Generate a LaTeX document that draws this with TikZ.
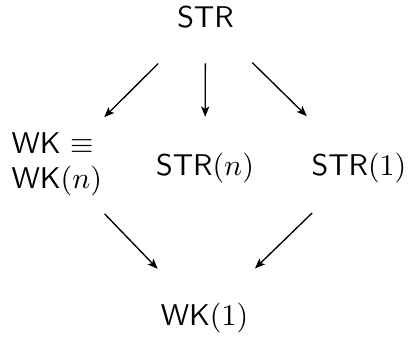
\documentclass[tikz,border=0pt]{standalone}
\usetikzlibrary{arrows.meta}
\begin{document}
\begin{tikzpicture}[x=0.3333pt, y=-0.3333pt, font=\fontsize{10}{11.67}\selectfont\sffamily,
  lbl/.style={inner sep=0pt},
  arr/.style={-{Stealth[length=3.4pt,width=2.7pt,inset=0.8pt]},line width=0.45pt}]
\useasboundingbox (0,0) rectangle (409,341);

\node[lbl,anchor=base] (str) at (205.5,27) {STR};
\node[lbl,anchor=north west,align=left] (wk) at (11,132) {WK $\equiv$\\WK$(n)$};
\node[lbl,anchor=base] (strn) at (205,175) {STR$(n)$};
\node[lbl,anchor=base] (str1) at (359,175) {STR$(1)$};
\node[lbl,anchor=base] (wk1) at (204.5,325) {WK$(1)$};

\draw[arr,shorten <=16.7pt,shorten >=7pt] (str) -- (wk);
\draw[arr,shorten <=11.7pt,shorten >=11.7pt] (str) -- (strn);
\draw[arr,shorten <=16.3pt,shorten >=17pt] (str) -- (str1);

\draw[arr,shorten <=8pt,shorten >=15.3pt] (wk) -- (wk1);
\draw[arr,shorten <=14.3pt,shorten >=16pt] (str1) -- (wk1);
\end{tikzpicture}
\end{document}
